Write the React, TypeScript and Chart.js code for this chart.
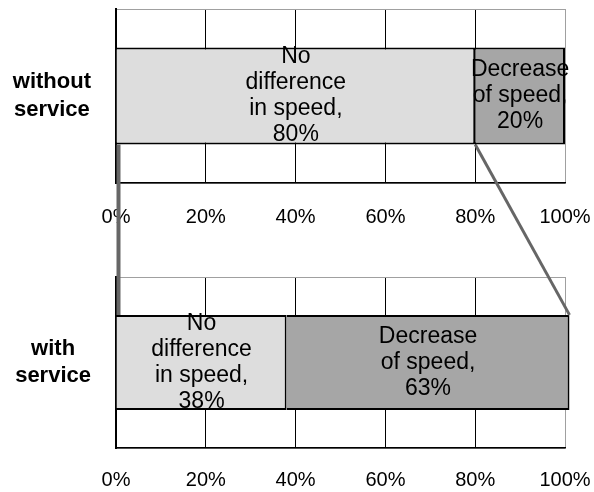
import React, { useEffect, useRef } from "react";
import { Chart, registerables } from "chart.js";

Chart.register(...registerables);

// Survey split: share of respondents reporting no change vs. a slowdown
const categoryWithout = ["without", "service"];
const categoryWith = ["with", "service"];
const noDifference = [80, 38]; // [without service, with service]
const decrease = [20, 63];
const noDifferenceText = ["No", "difference", "in speed,"];
const decreaseText = ["Decrease", "of speed,"];
const tickValues = [0, 20, 40, 60, 80, 100];

const FONT = "'Liberation Sans', Arial, Helvetica, sans-serif";
const LIGHT = "#dddddd";
const DARK = "#a6a6a6";
const FRAME_GRAY = "#a0a0a0";
const CONNECTOR = "#666666";
const BOTTOM_OFFSET = 240;

const segmentTextLines = [noDifferenceText, decreaseText];

// Writes the multi-line segment caption centred on every bar piece
const segmentText = {
  id: "segmentText",
  afterDatasetsDraw(chart: any) {
    const ctx = chart.ctx;
    ctx.save();
    ctx.font = `23px ${FONT}`;
    ctx.fillStyle = "#000";
    ctx.textAlign = "center";
    ctx.textBaseline = "middle";
    chart.data.datasets.forEach((ds: any, i: number) => {
      const meta = chart.getDatasetMeta(i);
      meta.data.forEach((el: any, j: number) => {
        const { x, y, base } = el.getProps(["x", "y", "base"], true);
        const lines = [...segmentTextLines[i], `${ds.data[j]}%`];
        const cx = (x + base) / 2;
        const n = lines.length;
        lines.forEach((t: string, k: number) => {
          ctx.fillText(t, cx, y + (k - (n - 1) / 2) * 26);
        });
      });
    });
    ctx.restore();
  },
};

function makeConfig(
  label: string[],
  noDiff: number,
  dec: number,
  padTop: number,
  axisHeight: number,
  tickPad: number
): any {
  return {
    type: "bar",
    data: {
      labels: [label],
      datasets: [
        {
          label: "No difference in speed",
          data: [noDiff],
          backgroundColor: LIGHT,
          borderColor: "#000",
          borderWidth: 2,
          barPercentage: 0.557,
          categoryPercentage: 1,
          clip: { left: 0, top: 0, right: 8, bottom: 0 },
        },
        {
          label: "Decrease of speed",
          data: [dec],
          backgroundColor: DARK,
          borderColor: "#000",
          borderWidth: 2,
          barPercentage: 0.557,
          categoryPercentage: 1,
          clip: { left: 0, top: 0, right: 8, bottom: 0 },
        },
      ],
    },
    options: {
      indexAxis: "y",
      animation: false,
      responsive: false,
      events: [],
      layout: { padding: { top: padTop, right: 29, left: 0, bottom: 0 } },
      plugins: {
        legend: { display: false },
        tooltip: { enabled: false },
        title: { display: false },
      },
      scales: {
        x: {
          stacked: true,
          min: 0,
          max: 100,
          afterBuildTicks: (scale: any) => {
            scale.ticks = tickValues.map((v) => ({ value: v }));
          },
          afterFit: (scale: any) => {
            scale.height = axisHeight;
            scale.paddingLeft = 0;
            scale.paddingRight = 0;
          },
          ticks: {
            callback: (v: any) => `${v}%`,
            font: { family: FONT, size: 20 },
            color: "#000",
            padding: tickPad,
            maxRotation: 0,
          },
          grid: {
            drawTicks: false,
            lineWidth: 1,
            color: (ctx: any) =>
              ctx.tick && ctx.tick.value === 100 ? FRAME_GRAY : "#000",
          },
          border: { color: "#000", width: 1.5 },
        },
        y: {
          stacked: true,
          afterFit: (scale: any) => {
            scale.width = 116;
            scale.paddingTop = 0;
            scale.paddingBottom = 0;
          },
          ticks: {
            font: { family: FONT, size: 22, weight: "bold", lineHeight: 1.25 },
            color: "#000",
            crossAlign: "center",
            padding: 25,
          },
          grid: { drawTicks: false, color: FRAME_GRAY, lineWidth: 1 },
          border: { color: "#000", width: 2 },
        },
      },
    },
    plugins: [segmentText],
  };
}

export default function App() {
  const topRef = useRef<HTMLCanvasElement>(null);
  const bottomRef = useRef<HTMLCanvasElement>(null);
  const overlayRef = useRef<HTMLCanvasElement>(null);

  useEffect(() => {
    const top = new Chart(
      topRef.current as HTMLCanvasElement,
      makeConfig(categoryWithout, noDifference[0], decrease[0], 9, 57, 22)
    );
    const bottom = new Chart(
      bottomRef.current as HTMLCanvasElement,
      makeConfig(categoryWith, noDifference[1], decrease[1], 37, 44, 20)
    );

    // Lines linking the "no difference" share of the upper bar to the lower bar
    const octx = (overlayRef.current as HTMLCanvasElement).getContext("2d");
    if (octx) {
      octx.clearRect(0, 0, 594, 492);
      const t0 = top.getDatasetMeta(0).data[0] as any;
      const b0 = bottom.getDatasetMeta(0).data[0] as any;
      const b1 = bottom.getDatasetMeta(1).data[0] as any;
      const tp = t0.getProps(["x", "y", "base", "height"], true);
      const bp0 = b0.getProps(["x", "y", "base", "height"], true);
      const bp1 = b1.getProps(["x", "y", "base", "height"], true);
      const topBarBottom = tp.y + tp.height / 2;
      const bottomBarTop = BOTTOM_OFFSET + bp0.y - bp0.height / 2;
      octx.strokeStyle = CONNECTOR;
      octx.lineWidth = 4;
      octx.lineCap = "butt";
      octx.beginPath();
      octx.moveTo(tp.base + 2, topBarBottom);
      octx.lineTo(bp0.base + 2, bottomBarTop);
      octx.stroke();
      octx.lineWidth = 3;
      octx.beginPath();
      octx.moveTo(tp.x, topBarBottom);
      octx.lineTo(bp1.x, bottomBarTop);
      octx.stroke();
    }

    return () => {
      top.destroy();
      bottom.destroy();
    };
  }, []);

  return (
    <div
      style={{
        position: "absolute",
        left: 0,
        top: 0,
        width: 594,
        height: 492,
        background: "#fff",
      }}
    >
      <canvas
        ref={topRef}
        width={594}
        height={240}
        style={{ position: "absolute", left: 0, top: 0 }}
      />
      <canvas
        ref={bottomRef}
        width={594}
        height={252}
        style={{ position: "absolute", left: 0, top: BOTTOM_OFFSET }}
      />
      <canvas
        ref={overlayRef}
        width={594}
        height={492}
        style={{
          position: "absolute",
          left: 0,
          top: 0,
          pointerEvents: "none",
        }}
      />
    </div>
  );
}
